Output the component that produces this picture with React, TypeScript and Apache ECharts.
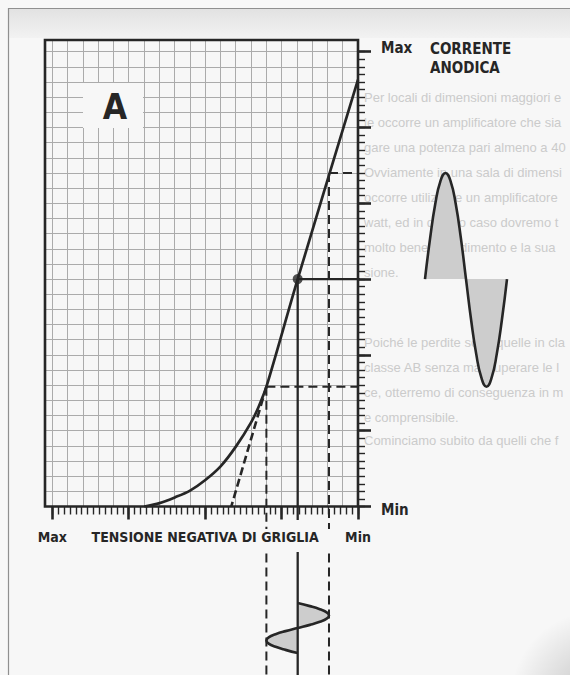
import { useEffect, useRef } from "react";
import * as echarts from "echarts";

// ---------------------------------------------------------------------------
// Data
// Grid voltage is measured in grid cells: 0 = "Max" (most negative), 20 = "Min".
// Anode current is measured in minor ticks of the right scale: 0 = "Min", 60 = "Max".
// ---------------------------------------------------------------------------
const xTickLabels = ["Max", "", "TENSIONE NEGATIVA DI GRIGLIA", "", "Min"];
const yTickLabels = ["Min", "", "", "", "", "", "Max"];

// curved foot of the valve characteristic
const footVoltage = [6.0, 7.0, 8.0, 9.0, 10.0, 11.0, 12.0, 13.0, 13.5];
const footCurrent = [0, 0.45, 1.2, 2.1, 3.5, 5.3, 7.9, 11.1, 13.2];
// straight part of the characteristic
const linearVoltage = [14.0, 16.05, 20.0];
const linearCurrent = [15.8, 30.0, 56.3];
// straight part extended down to zero current
const tangentVoltage = [14.0, 11.7];
const tangentCurrent = [15.8, 0];

// class A operating point and the extremes of the swing
const biasVoltage = 16.05;
const biasCurrent = 30;
const swingVoltage = [14.0, 18.1];
const swingCurrent = [15.8, 44.0];

// anode current against time (drawn to the right of the scale), one full cycle
const outTime = [0, 1, 2, 3, 4, 5, 6, 7, 8, 9, 10, 11, 12, 13, 14, 15, 16];
const outCurrent = [30, 35.4, 39.9, 42.9, 44.0, 42.9, 39.9, 35.4, 30, 24.6, 20.1, 17.0, 15.8, 17.0, 20.1, 24.6, 30];

// grid voltage against time (drawn below the scale), one full cycle
const inTime = ["0", "1", "2", "3", "4", "5", "6", "7", "8", "9", "10", "11", "12", "13", "14", "15", "16"];
const inVoltage = [16.05, 16.85, 17.5, 17.95, 18.1, 17.95, 17.5, 16.85, 16.05, 15.25, 14.6, 14.15, 14.0, 14.15, 14.6, 15.25, 16.05];

// text of the facing page that shows through the paper
const throughText = [
  "Per locali di dimensioni maggiori e per grandi sa-",
  "le occorre un amplificatore che sia in grado di ero-",
  "gare una potenza pari almeno a 40 - 50 watt.",
  "Ovviamente in una sala di dimensioni maggiori",
  "occorre utilizzare un amplificatore da 50 - 70",
  "watt, ed in questo caso dovremo tenere presente",
  "molto bene il rendimento e la sua distor-",
  "sione.",
  "Poiché le perdite sono quelle in classe A ed in",
  "classe AB senza mai superare le loro dissipa-",
  "ce, otterremo di conseguenza in modo tale-",
  "e comprensibile.",
  "Cominciamo subito da quelli che funzionano in clas-",
];
const throughTextY = [97, 122, 147, 172, 197, 222, 247, 272, 342, 367, 392, 417, 440];

// ---------------------------------------------------------------------------
// Layout and style
// ---------------------------------------------------------------------------
const INK = "#262626";
const GRID_GREY = "#ababab";
const SHADE = "#cdcdcd";
const PAPER = "#f7f7f7";
const NARROW = "'Liberation Sans Narrow', 'DejaVu Sans Condensed', 'Arial Narrow', sans-serif";

const lineEndVoltage = 32.5; // right end of the horizontal construction lines
const pageBottomCurrent = -22.5; // bottom of the page
const solidGap = [-1.78, -6.0]; // interruption for the axis title
const dashGap = [-2.97, -6.2];
const DASH = [9, 5];

const seg = (pts: number[][], type: "solid" | number[], width: number) => ({
  type: "line",
  xAxisIndex: 0,
  yAxisIndex: 0,
  data: pts,
  clip: false,
  symbol: "none",
  silent: true,
  lineStyle: { color: INK, width, type },
});

const hiddenLine = { show: false, onZero: false };

function buildOption() {
  const pair = (a: number[], b: number[]) => a.map((v, i) => [v, b[i]]);

  const graphic: any[] = [
    // paper edge and the grey strip along the top
    {
      type: "rect",
      z: -10,
      shape: { x: 9, y: 9, width: 561, height: 29 },
      style: {
        fill: new echarts.graphic.LinearGradient(0, 0, 0, 1, [
          { offset: 0, color: "#e2e2e2" },
          { offset: 1, color: "#f2f2f2" },
        ]),
      },
    },
    {
      type: "circle",
      z: -10,
      shape: { cx: 600, cy: 700, r: 90 },
      style: {
        fill: new echarts.graphic.RadialGradient(0.5, 0.5, 0.5, [
          { offset: 0, color: "rgba(0,0,0,0.22)" },
          { offset: 1, color: "rgba(0,0,0,0)" },
        ]),
      },
    },
    { type: "line", z: -9, shape: { x1: 8, y1: 8.5, x2: 570, y2: 8.5 }, style: { stroke: "#8f8f8f", lineWidth: 1 } },
    { type: "line", z: -9, shape: { x1: 8.5, y1: 8, x2: 8.5, y2: 675 }, style: { stroke: "#8f8f8f", lineWidth: 1.2 } },
    ...throughText.map((t, i) => ({
      type: "text",
      z: -8,
      x: 364,
      y: throughTextY[i],
      style: {
        text: t,
        fill: "#cbcbcb",
        fontFamily: "'Liberation Sans', Arial, sans-serif",
        fontSize: 13,
        verticalAlign: "middle",
        width: 203,
        overflow: "truncate",
        ellipsis: "",
      },
    })),
    // panel letter on its own clear patch of the grid
    { type: "rect", z: 10, shape: { x: 83, y: 83, width: 60, height: 45 }, style: { fill: PAPER } },
    {
      type: "text",
      z: 11,
      x: 115,
      y: 107,
      style: {
        text: "A",
        fill: INK,
        fontFamily: NARROW,
        fontWeight: "bold",
        fontSize: 35,
        align: "center",
        verticalAlign: "middle",
      },
    },
    {
      type: "text",
      z: 11,
      x: 430,
      y: 39,
      style: {
        text: "CORRENTE\nANODICA",
        fill: INK,
        fontFamily: NARROW,
        fontWeight: "bold",
        fontSize: 15,
        lineHeight: 19,
        verticalAlign: "top",
      },
    },
  ];

  const labelStyle = { color: INK, fontFamily: NARROW, fontWeight: "bold" as const, fontSize: 15 };

  return {
    animation: false,
    backgroundColor: PAPER,
    graphic,
    grid: [
      // 0: characteristic (bordered frame)
      { left: 45, right: 212, top: 40, bottom: 168.5, show: true, borderColor: INK, borderWidth: 2.6, backgroundColor: "transparent", z: 6 },
      // 1: vertical rulings
      { left: 52.3, right: 212, top: 40, bottom: 168.5 },
      // 2: tick scales
      { left: 52.3, right: 212, top: 51.7, bottom: 168.5 },
      // 3: input waveform below
      { left: 45, right: 212, top: 603, bottom: 22 },
      // 4: output waveform on the right
      { left: 425, right: 63, top: 40, bottom: 168.5 },
    ],
    xAxis: [
      { gridIndex: 0, type: "value", min: -0.5, max: 20, show: false },
      {
        gridIndex: 1, type: "value", min: 0, max: 20, interval: 1,
        axisLine: hiddenLine, axisTick: { show: false }, axisLabel: { show: false },
        splitLine: { show: true, lineStyle: { color: GRID_GREY, width: 1 } },
      },
      {
        gridIndex: 2, type: "value", position: "bottom", min: 0, max: 52, interval: 1,
        axisLine: hiddenLine, axisLabel: { show: false }, splitLine: { show: false },
        axisTick: { show: true, length: 8, lineStyle: { color: INK, width: 1.4 } },
      },
      {
        gridIndex: 2, type: "value", position: "bottom", min: 0, max: 4, interval: 1,
        axisLine: hiddenLine, splitLine: { show: false },
        axisTick: { show: true, length: 13, lineStyle: { color: INK, width: 2.6 } },
        axisLabel: {
          show: true, margin: 23, lineHeight: 15, ...labelStyle, fontSize: 14,
          formatter: (_v: number, i: number) => xTickLabels[i] ?? "",
        },
      },
      { gridIndex: 3, type: "value", min: -0.5, max: 20, show: false },
      { gridIndex: 4, type: "value", min: 0, max: 16, show: false },
    ],
    yAxis: [
      {
        gridIndex: 0, type: "value", min: 0, max: 61.54, interval: 2,
        axisLine: hiddenLine, axisTick: { show: false }, axisLabel: { show: false },
        splitLine: { show: true, lineStyle: { color: GRID_GREY, width: 1 } },
      },
      { gridIndex: 1, type: "value", min: 0, max: 1, show: false },
      {
        gridIndex: 2, type: "value", position: "right", min: 0, max: 60, interval: 1,
        axisLine: hiddenLine, axisLabel: { show: false }, splitLine: { show: false },
        axisTick: { show: true, length: 7, lineStyle: { color: INK, width: 1.4 } },
      },
      {
        gridIndex: 2, type: "value", position: "right", min: 0, max: 6, interval: 1,
        axisLine: hiddenLine, splitLine: { show: false },
        axisTick: { show: true, length: 13, lineStyle: { color: INK, width: 2.6 } },
        axisLabel: {
          show: true, margin: 23, ...labelStyle,
          formatter: (_v: number, i: number) => {
            const t = yTickLabels[i];
            if (!t) return "";
            return i === 0 ? `{lo|${t}}` : `{hi|${t}}`;
          },
          rich: {
            lo: { ...labelStyle, padding: [7, 0, 0, 0] },
            hi: { ...labelStyle, padding: [0, 0, 8, 0] },
          },
        },
      },
      { gridIndex: 3, type: "category", data: inTime, boundaryGap: false, inverse: true, show: false },
      { gridIndex: 4, type: "value", min: 0, max: 61.54, show: false },
    ],
    series: [
      // construction lines
      seg([[biasVoltage, biasCurrent], [lineEndVoltage, biasCurrent]], "solid", 2.3),
      seg([[biasVoltage, biasCurrent], [biasVoltage, solidGap[0]]], "solid", 2.3),
      seg([[biasVoltage, solidGap[1]], [biasVoltage, pageBottomCurrent]], "solid", 2.3),
      seg([[swingVoltage[1], swingCurrent[1]], [lineEndVoltage, swingCurrent[1]]], DASH, 2),
      seg([[swingVoltage[0], swingCurrent[0]], [lineEndVoltage, swingCurrent[0]]], DASH, 2),
      seg([[swingVoltage[1], swingCurrent[1]], [swingVoltage[1], dashGap[0]]], DASH, 2),
      seg([[swingVoltage[1], dashGap[1]], [swingVoltage[1], pageBottomCurrent]], DASH, 2),
      seg([[swingVoltage[0], swingCurrent[0]], [swingVoltage[0], dashGap[0]]], DASH, 2),
      seg([[swingVoltage[0], dashGap[1]], [swingVoltage[0], pageBottomCurrent]], DASH, 2),
      seg(pair(tangentVoltage, tangentCurrent), [8, 4], 2.6),
      // the characteristic itself
      {
        type: "line",
        xAxisIndex: 0,
        yAxisIndex: 0,
        data: [...pair(footVoltage, footCurrent), ...pair(linearVoltage, linearCurrent)],
        smooth: 0.3,
        symbol: "none",
        clip: false,
        silent: true,
        lineStyle: { color: INK, width: 2.7 },
        z: 3,
      },
      // operating point
      {
        type: "scatter",
        xAxisIndex: 0,
        yAxisIndex: 0,
        data: [[biasVoltage, biasCurrent]],
        symbol: "circle",
        symbolSize: 10,
        itemStyle: { color: INK },
        silent: true,
        z: 4,
      },
      // output: anode current waveform
      {
        type: "line",
        xAxisIndex: 5,
        yAxisIndex: 5,
        data: pair(outTime, outCurrent),
        smooth: true,
        symbol: "none",
        clip: false,
        silent: true,
        lineStyle: { color: INK, width: 2.6 },
        areaStyle: { color: SHADE, opacity: 1, origin: biasCurrent },
        z: 3,
      },
      // input: grid voltage waveform
      {
        type: "line",
        xAxisIndex: 4,
        yAxisIndex: 4,
        data: inVoltage.map((v, i) => [v, inTime[i]]),
        smooth: true,
        symbol: "none",
        clip: false,
        silent: true,
        lineStyle: { color: INK, width: 2.6 },
        areaStyle: { color: SHADE, opacity: 1, origin: biasVoltage },
        z: 3,
      },
    ],
  };
}

export default function App() {
  const ref = useRef<HTMLDivElement>(null);
  useEffect(() => {
    if (!ref.current) return;
    const chart = echarts.init(ref.current, null, { renderer: "svg" });
    chart.setOption(buildOption() as any);
    return () => chart.dispose();
  }, []);
  return (
    <div
      ref={ref}
      style={{ position: "fixed", left: 0, top: 0, width: 570, height: 675 }}
    />
  );
}
